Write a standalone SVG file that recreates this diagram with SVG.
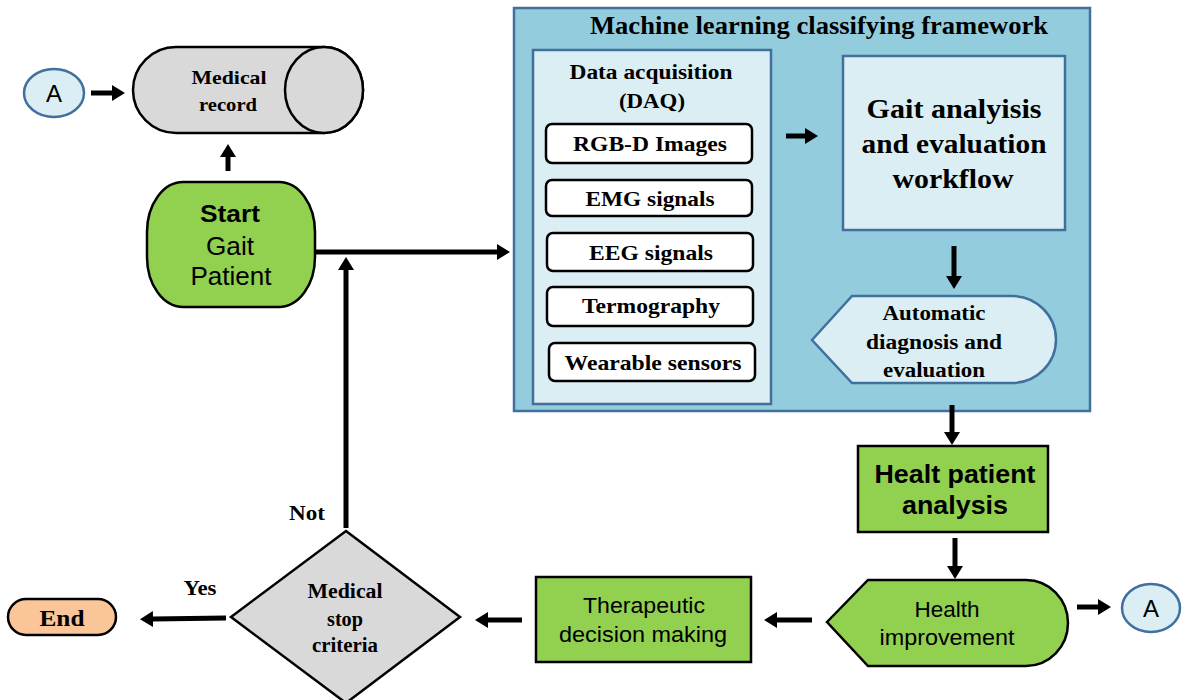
<svg xmlns="http://www.w3.org/2000/svg" width="1183" height="700" viewBox="0 0 1183 700">
<defs>
<style>
.serif{font-family:"Liberation Serif","Times New Roman",serif;font-weight:bold;fill:#000;text-anchor:middle}
.sans{font-family:"Liberation Sans",Arial,sans-serif;fill:#000;text-anchor:middle}
.blk{stroke:#000;stroke-width:2.5}
.blue{stroke:#41709f;stroke-width:2.5}
.conn{stroke:#000;stroke-width:5;fill:none;marker-end:url(#ah)}
.sub{fill:#fff;stroke:#000;stroke-width:2.5}
</style>
<marker id="ah" markerUnits="userSpaceOnUse" markerWidth="14" markerHeight="16" refX="0" refY="8" orient="auto">
<path d="M0,0 L13,8 L0,16 Z" fill="#000"/>
</marker>
</defs>
<rect width="1183" height="700" fill="#fff"/>

<g id="connA1">
<ellipse cx="54" cy="93" rx="30" ry="24" fill="#dbeef4" class="blue"/>
<text x="54" y="102" class="sans" font-size="24">A</text>
</g>

<g id="medical-record">
<path d="M176,47 L324,47 A39,43 0 0 1 324,133 L176,133 A43,43 0 0 1 176,47 Z" fill="#d9d9d9" class="blk"/>
<ellipse cx="324" cy="90" rx="39" ry="43" fill="#d9d9d9" class="blk"/>
<text x="229" y="84" class="serif" font-size="19" textLength="75" lengthAdjust="spacingAndGlyphs">Medical</text>
<text x="228" y="111" class="serif" font-size="19" textLength="58" lengthAdjust="spacingAndGlyphs">record</text>
</g>

<g id="start">
<rect x="147" y="182" width="168" height="125" rx="36" ry="50" fill="#92d050" class="blk"/>
<text x="230" y="222" class="sans" font-size="24" font-weight="bold" textLength="60" lengthAdjust="spacingAndGlyphs">Start</text>
<text x="230" y="255" class="sans" font-size="25" textLength="48" lengthAdjust="spacingAndGlyphs">Gait</text>
<text x="231" y="285" class="sans" font-size="25" textLength="81" lengthAdjust="spacingAndGlyphs">Patient</text>
</g>

<g id="framework">
<rect x="514" y="8" width="576" height="403" fill="#93cddd" class="blue"/>
<text x="819" y="34" class="serif" font-size="25" textLength="458" lengthAdjust="spacingAndGlyphs">Machine learning classifying framework</text>
</g>

<g id="daq">
<rect x="533" y="50" width="238" height="354" fill="#dbeef4" class="blue"/>
<text x="651" y="79" class="serif" font-size="20" textLength="163" lengthAdjust="spacingAndGlyphs">Data acquisition</text>
<text x="652" y="108" class="serif" font-size="20" textLength="66" lengthAdjust="spacingAndGlyphs">(DAQ)</text>
</g>
<g id="rgbd"><rect x="546" y="124" width="206" height="39" rx="6" class="sub"/><text x="650" y="151" class="serif" font-size="21" textLength="154" lengthAdjust="spacingAndGlyphs">RGB-D Images</text></g>
<g id="emg"><rect x="546" y="180" width="206" height="36" rx="6" class="sub"/><text x="650" y="206" class="serif" font-size="21" textLength="129" lengthAdjust="spacingAndGlyphs">EMG signals</text></g>
<g id="eeg"><rect x="547" y="233" width="206" height="38" rx="6" class="sub"/><text x="651" y="260" class="serif" font-size="21" textLength="124" lengthAdjust="spacingAndGlyphs">EEG signals</text></g>
<g id="termo"><rect x="547" y="287" width="206" height="39" rx="6" class="sub"/><text x="651" y="313" class="serif" font-size="21" textLength="138" lengthAdjust="spacingAndGlyphs">Termography</text></g>
<g id="wearable"><rect x="549" y="343" width="206" height="38" rx="6" class="sub"/><text x="653" y="370" class="serif" font-size="21" textLength="177" lengthAdjust="spacingAndGlyphs">Wearable  sensors</text></g>

<g id="gait-analysis">
<rect x="843" y="56" width="222" height="174" fill="#dbeef4" class="blue"/>
<text x="954" y="118" class="serif" font-size="28" textLength="175" lengthAdjust="spacingAndGlyphs">Gait analyisis</text>
<text x="954" y="153" class="serif" font-size="28" textLength="185" lengthAdjust="spacingAndGlyphs">and evaluation</text>
<text x="953" y="188" class="serif" font-size="28" textLength="121" lengthAdjust="spacingAndGlyphs">workflow</text>
</g>

<g id="auto-diag">
<path d="M812,340 L852,296 L1012,296 A44,43.5 0 0 1 1012,383 L852,383 Z" fill="#dbeef4" class="blue"/>
<text x="934" y="320" class="serif" font-size="20" textLength="103" lengthAdjust="spacingAndGlyphs">Automatic</text>
<text x="934" y="349" class="serif" font-size="20" textLength="136" lengthAdjust="spacingAndGlyphs">diagnosis and</text>
<text x="934" y="377" class="serif" font-size="20" textLength="102" lengthAdjust="spacingAndGlyphs">evaluation</text>
</g>

<g id="healt-analysis">
<rect x="858" y="446" width="190" height="86" fill="#92d050" class="blk"/>
<text x="955" y="483" class="sans" font-size="26" font-weight="bold" textLength="161" lengthAdjust="spacingAndGlyphs">Healt patient</text>
<text x="955" y="514" class="sans" font-size="26" font-weight="bold" textLength="106" lengthAdjust="spacingAndGlyphs">analysis</text>
</g>

<g id="health-improvement">
<path d="M827,622 L868,580 L1026,580 A42,43 0 0 1 1026,666 L868,666 Z" fill="#92d050" class="blk"/>
<text x="947" y="617" class="sans" font-size="22" textLength="65" lengthAdjust="spacingAndGlyphs">Health</text>
<text x="947" y="645" class="sans" font-size="22" textLength="135" lengthAdjust="spacingAndGlyphs">improvement</text>
</g>

<g id="connA2">
<ellipse cx="1151" cy="608" rx="29" ry="24" fill="#dbeef4" class="blue"/>
<text x="1151" y="617" class="sans" font-size="24">A</text>
</g>

<g id="therapeutic">
<rect x="536" y="577" width="215" height="85" fill="#92d050" class="blk"/>
<text x="644" y="613" class="sans" font-size="22" textLength="122" lengthAdjust="spacingAndGlyphs">Therapeutic</text>
<text x="643" y="642" class="sans" font-size="22" textLength="168" lengthAdjust="spacingAndGlyphs">decision  making</text>
</g>

<g id="stop-criteria">
<path d="M346,531 L460,617 L346,703 L231,617 Z" fill="#d9d9d9" class="blk"/>
<text x="345" y="598" class="serif" font-size="20" textLength="75" lengthAdjust="spacingAndGlyphs">Medical</text>
<text x="345" y="626" class="serif" font-size="20" textLength="36" lengthAdjust="spacingAndGlyphs">stop</text>
<text x="345" y="652" class="serif" font-size="20" textLength="66" lengthAdjust="spacingAndGlyphs">criteria</text>
</g>

<g id="end">
<rect x="8" y="599" width="108" height="36" rx="18" fill="#fbc59a" class="blk"/>
<text x="62" y="626" class="serif" font-size="24" textLength="45" lengthAdjust="spacingAndGlyphs">End</text>
</g>

<g id="labels">
<text x="200" y="595" class="serif" font-size="20" textLength="33" lengthAdjust="spacingAndGlyphs">Yes</text>
<text x="307" y="520" class="serif" font-size="20" textLength="36" lengthAdjust="spacingAndGlyphs">Not</text>
</g>

<g id="connectors">
<path class="conn" d="M91,93 L112,93"/>
<path class="conn" d="M228,171 L228,157"/>
<path class="conn" d="M315,252 L497,252"/>
<path class="conn" d="M346,528 L346,270"/>
<path class="conn" d="M786,136 L805,136"/>
<path class="conn" d="M954,246 L954,276"/>
<path class="conn" d="M952,405 L952,432"/>
<path class="conn" d="M955,538 L955,566"/>
<path class="conn" d="M1077,607 L1098,607"/>
<path class="conn" d="M812,620 L777,620"/>
<path class="conn" d="M522,620 L488,620"/>
<path class="conn" d="M226,618 L153,619"/>
</g>
</svg>
